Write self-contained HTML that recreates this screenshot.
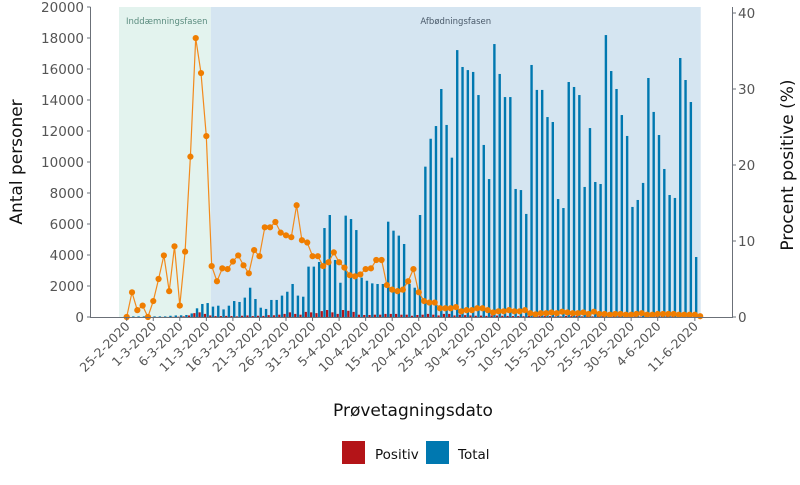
<!DOCTYPE html>
<html><head><meta charset="utf-8"><style>
body{margin:0;background:#fff;}
svg text{font-family:"DejaVu Sans","Liberation Sans",sans-serif;}
</style></head><body>
<svg id="chart" width="800" height="480" xmlns="http://www.w3.org/2000/svg"></svg>
<script>
const startDate = [2020, 2, 25];
const totals = [40,40,40,40,60,40,40,40,80,100,110,130,230,560,840,900,670,730,490,730,1030,970,1250,1890,1160,600,520,1100,1100,1380,1630,2130,1380,1310,3250,3250,3550,5740,6580,3680,2210,6540,6320,5610,2540,2340,2170,2130,2130,6150,5570,5250,4710,2130,1890,6580,9700,11500,12320,14710,12390,10280,17220,16130,15930,15810,14320,11100,8900,17610,15680,14190,14190,8260,8190,6650,16260,14650,14650,12900,12580,7610,7030,15160,14840,14320,8390,12190,8710,8580,18190,15870,14710,13030,11680,7100,7550,8650,15420,13230,11740,9550,7870,7680,16710,15290,13870,3870];
const positives = [0,0,0,0,2,2,2,5,5,10,20,40,100,250,300,200,100,60,60,70,60,40,80,100,60,80,70,120,110,150,200,300,200,150,330,300,250,380,450,300,200,450,400,330,150,130,130,150,150,200,200,200,150,150,80,130,150,200,150,100,200,200,100,150,120,100,80,90,70,100,90,80,70,60,60,50,80,70,60,60,60,40,40,70,60,60,40,50,40,40,60,50,40,40,40,30,30,30,50,40,30,30,30,30,40,30,30,20];
const percents = [0,3.25,0.9,1.5,0,2.1,5.0,8.1,3.4,9.3,1.5,8.6,21.1,36.7,32.1,23.8,6.7,4.7,6.4,6.3,7.3,8.1,6.8,5.75,8.8,8.0,11.8,11.8,12.5,11.1,10.75,10.5,14.7,10.1,9.8,8.0,8.0,6.7,7.2,8.5,7.2,6.5,5.5,5.35,5.6,6.3,6.4,7.5,7.5,4.2,3.6,3.4,3.6,4.7,6.3,3.25,2.1,1.9,1.9,1.15,1.15,1.15,1.3,0.75,0.9,0.9,1.15,1.15,0.9,0.6,0.75,0.75,0.9,0.75,0.75,0.9,0.5,0.35,0.5,0.5,0.6,0.5,0.7,0.6,0.5,0.5,0.6,0.4,0.7,0.4,0.4,0.3,0.4,0.4,0.3,0.3,0.4,0.5,0.3,0.3,0.4,0.4,0.4,0.4,0.3,0.3,0.3,0.3,0.1];
const leftTicks = [0,2000,4000,6000,8000,10000,12000,14000,16000,18000,20000];
const rightTicks = [0,10,20,30,40];
const xTickDays = [0,5,10,15,20,25,30,35,40,45,50,55,60,65,70,75,80,85,90,95,100,107];
const phases = [{name:"Inddæmningsfasen", from:-1.45, to:15.85, color:"#e3f3ee", tc:"#5b8c7f"},{name:"Afbødningsfasen", from:15.85, to:108.1, color:"#d5e5f1", tc:"#4a5a6a"}];

const svg = document.getElementById('chart');
const NS = "http://www.w3.org/2000/svg";
const X0=126.7, PX=5.31, YB=317;
const xs = d => X0 + PX*d;
const yl = v => YB - v*0.0155;
const yr = v => YB - v*7.6;
function mk(tag, attrs, parent){const e=document.createElementNS(NS,tag);for(const k in attrs)e.setAttribute(k,attrs[k]);(parent||svg).appendChild(e);return e;}

phases.forEach(p=>{
  const r=mk('rect',{x:xs(p.from),y:7,width:xs(p.to)-xs(p.from),height:YB-7,fill:p.color});
  
  
  const t=mk('text',{x:xs(p.from)+7,y:24,'font-size':8.5,fill:p.tc});
  t.textContent = p.name;
  
  
  if(p.from>0){t.setAttribute('x', xs(p.from)+ (xs(p.to)-xs(p.from))/2); t.setAttribute('text-anchor','middle');}
});

totals.forEach((v,i)=>{
  const r=mk('rect',{x:xs(i)+0.1,y:yl(v),width:2.4,height:YB-yl(v),fill:"#0078b0"});
  
  
});
positives.forEach((v,i)=>{
  const r=mk('rect',{x:xs(i)-2.5,y:yl(v),width:2.2,height:YB-yl(v),fill:"#b41418"});
  
  
});

const pts = percents.map((v,i)=>xs(i).toFixed(1)+','+yr(v).toFixed(1)).join(' ');
const line = mk('polyline',{points:pts,fill:'none',stroke:'#f28a1c','stroke-width':1.2});


percents.forEach((v,i)=>{
  const c=mk('circle',{cx:xs(i),cy:yr(v),r:3.1,fill:'#ef7d00'});
  
  
});

const ax='#6b7078';
let a=mk('line',{x1:90.5,y1:7,x2:90.5,y2:YB,stroke:ax,'stroke-width':1});

a=mk('line',{x1:732.5,y1:7,x2:732.5,y2:YB,stroke:ax,'stroke-width':1});

a=mk('line',{x1:90,y1:YB+0.5,x2:733,y2:YB+0.5,stroke:ax,'stroke-width':1});


leftTicks.forEach(v=>{
  mk('line',{x1:87,y1:yl(v),x2:90.5,y2:yl(v),stroke:ax});
  const t=mk('text',{x:84,y:yl(v)+5,'text-anchor':'end','font-size':13.5,fill:'#555'});
  t.textContent=v;
  
  
});
rightTicks.forEach(v=>{
  mk('line',{x1:732.5,y1:yr(v),x2:736,y2:yr(v),stroke:ax});
  const t=mk('text',{x:738,y:yr(v)+5,'font-size':13.5,fill:'#555'});
  t.textContent=v;
  
  
});
xTickDays.forEach(d=>{
  const dt=new Date(startDate[0],startDate[1]-1,startDate[2]+d);
  const lbl=dt.getDate()+'-'+(dt.getMonth()+1)+'-'+dt.getFullYear();
  mk('line',{x1:xs(d),y1:YB,x2:xs(d),y2:YB+4,stroke:ax});
  const tx=xs(d)+4, ty=YB+10;
  const t=mk('text',{x:tx,y:ty,'text-anchor':'end','font-size':12.5,fill:'#555',transform:`rotate(-45 ${tx} ${ty})`});
  t.textContent=lbl;
  
  
});

let t=mk('text',{x:413,y:416,'text-anchor':'middle','font-size':17,fill:'#111'});
t.textContent='Prøvetagningsdato';
t=mk('text',{x:22,y:162,'text-anchor':'middle','font-size':17,fill:'#111',transform:'rotate(-90 22 162)'});
t.textContent='Antal personer';
t=mk('text',{x:793,y:165,'text-anchor':'middle','font-size':17,fill:'#111',transform:'rotate(-90 793 165)'});
t.textContent='Procent positive (%)';

let r=mk('rect',{x:342,y:441,width:23,height:23,fill:'#b41418'});

t=mk('text',{x:375,y:459,'font-size':13.5,fill:'#111'});t.textContent='Positiv';

r=mk('rect',{x:426,y:441,width:23,height:23,fill:'#0078b0'});

t=mk('text',{x:458,y:459,'font-size':13.5,fill:'#111'});t.textContent='Total';

</script>
</body></html>
